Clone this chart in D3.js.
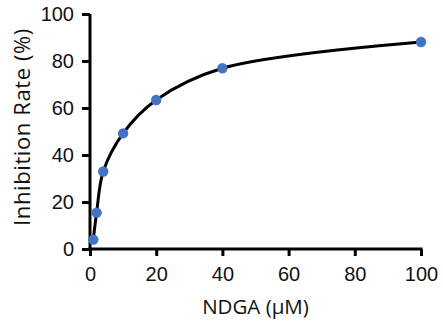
<!DOCTYPE html>
<html>
<head>
<meta charset="utf-8">
<script src="https://cdn.jsdelivr.net/npm/d3@7"></script>
<style>
  html, body { margin: 0; padding: 0; background: #fff; }
  svg { display: block; font-family: "Open Sans", "Noto Sans", sans-serif; }
</style>
</head>
<body>
<svg id="chart" width="443" height="322"></svg>
<script>
// NDGA concentration (µM) and measured inhibition rate (%)
const concentrations = [1, 2, 4, 10, 20, 40, 100];
const inhibition = [4, 15.5, 33, 49.2, 63.4, 76.9, 88.1];
const xTicks = [0, 20, 40, 60, 80, 100];
const yTicks = [0, 20, 40, 60, 80, 100];

const svg = d3.select("#chart");
const margin = { left: 90, right: 22, top: 14, bottom: 73 };
const W = 443, H = 322;

const x = d3.scaleLinear().domain([0, 100]).range([margin.left, W - margin.right]);
const y = d3.scaleLinear().domain([0, 100]).range([H - margin.bottom, margin.top]);

const points = concentrations.map((c, i) => ({ c, v: inhibition[i] }));

// smooth curve through the measurements
const line = d3.line()
  .x(d => x(d.c))
  .y(d => y(d.v))
  .curve(d3.curveCatmullRom.alpha(0.5));

svg.append("path")
  .datum(points)
  .attr("d", line)
  .attr("fill", "none")
  .attr("stroke", "#000")
  .attr("stroke-width", 3);

// axes
const xAxis = d3.axisBottom(x).tickValues(xTicks).tickSize(7).tickPadding(11);
const yAxis = d3.axisLeft(y).tickValues(yTicks).tickSize(8).tickPadding(8);

const gx = svg.append("g").attr("transform", `translate(0,${y(0)})`).call(xAxis);
const gy = svg.append("g").attr("transform", `translate(${x(0)},0)`).call(yAxis);

[gx, gy].forEach(g => {
  g.select(".domain").attr("stroke", "#000").attr("stroke-width", 3);
  g.selectAll(".tick line").attr("stroke", "#000").attr("stroke-width", 3);
  g.selectAll(".tick text").attr("fill", "#111").style("font-size", "20px");
});
gx.select(".domain").attr("d", `M${x(0) - 1.5},0H${x(100) + 1.5}`);
gy.select(".domain").attr("d", `M0,${y(100)}V${y(0) + 1.5}`);

// data markers
svg.append("g")
  .selectAll("circle")
  .data(points)
  .join("circle")
  .attr("cx", d => x(d.c))
  .attr("cy", d => y(d.v))
  .attr("r", 5.2)
  .attr("fill", "#4472C4");

// axis titles
svg.append("text")
  .attr("x", (x(0) + x(100)) / 2)
  .attr("y", 314)
  .attr("text-anchor", "middle")
  .attr("fill", "#111")
  .style("font-size", "20.5px")
  .text("NDGA (μM)");

svg.append("text")
  .attr("transform", `translate(30,127) rotate(-90)`)
  .attr("text-anchor", "middle")
  .attr("fill", "#111")
  .style("font-size", "22px")
  .style("letter-spacing", "0.6px")
  .text("Inhibition Rate (%)");
</script>
</body>
</html>
